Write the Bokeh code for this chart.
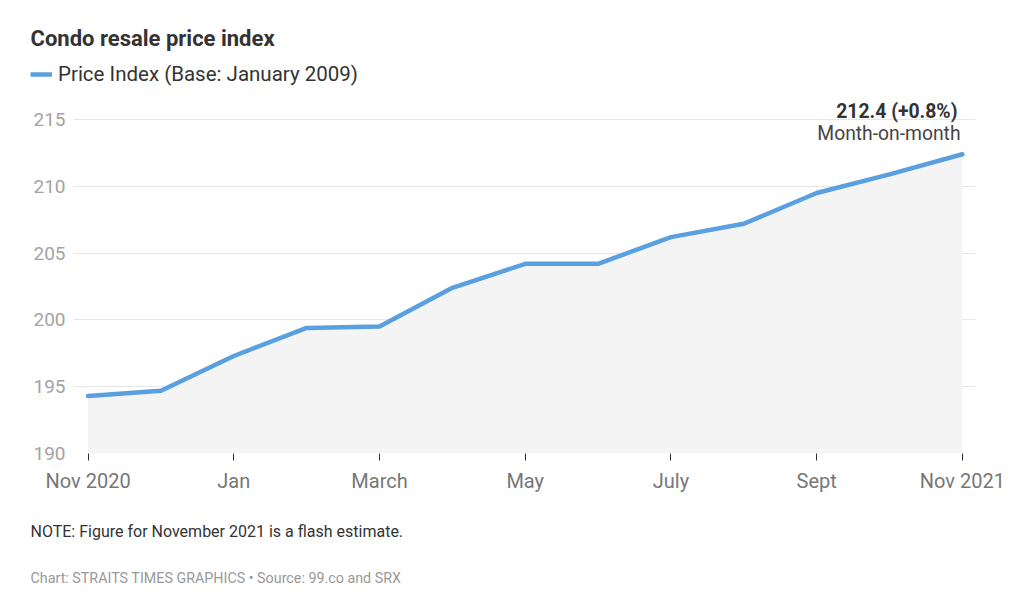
from bokeh.plotting import figure
from bokeh.models import Label, Legend, LegendItem, FixedTicker, Range1d
from bokeh.layouts import column
from bokeh.embed import file_html
from bokeh.resources import INLINE

months = ["Nov 2020", "Dec", "Jan", "Feb", "March", "Apr", "May", "Jun",
          "July", "Aug", "Sept", "Oct", "Nov 2021"]
index_values = [194.3, 194.7, 197.3, 199.4, 199.5, 202.4, 204.2, 204.2,
                206.2, 207.2, 209.5, 210.9, 212.4]
y_ticks = [190, 195, 200, 205, 210, 215]
x_tick_positions = [0, 2, 4, 6, 8, 10, 12]

FONT = "Roboto"
LINE_COLOR = "#5a9fe0"
x = list(range(len(months)))


def text_strip(height):
    f = figure(width=1014, height=height, output_backend="svg", toolbar_location=None,
               x_axis_type=None, y_axis_type=None, min_border=0,
               x_range=Range1d(0, 1), y_range=Range1d(0, 1))
    f.frame_align = False
    f.outline_line_color = None
    return f


# ---------- header: title + legend ----------
header = text_strip(95)
header.add_layout(Label(x=30, y=57, x_units="screen", y_units="screen",
                        text="Condo resale price index", text_font=FONT,
                        text_font_style="bold", text_font_size="22px",
                        text_color="#333333", text_baseline="middle"))
# legend swatch renderer (single off-range point: draws nothing itself)
legend_line = header.line(x=[-1], y=[-1], line_color=LINE_COLOR, line_width=4.5)
legend = Legend(items=[LegendItem(label="Price Index (Base: January 2009)",
                                  renderers=[legend_line])],
                location=(30, 9), orientation="horizontal",
                glyph_width=22, glyph_height=20, label_standoff=6,
                padding=0, margin=0, border_line_color=None,
                background_fill_alpha=0, label_text_font=FONT,
                label_text_font_size="20.5px", label_text_color="#333333",
                label_height=20)
header.add_layout(legend, "center")

# ---------- main chart ----------
p = figure(width=1014, height=403, output_backend="svg", toolbar_location=None,
           x_range=Range1d(-0.2, 12.18), y_range=Range1d(190, 216.8),
           min_border_left=73, min_border_right=39, min_border_top=0,
           min_border_bottom=45)
p.frame_align = False
p.outline_line_color = None
p.background_fill_color = "white"
p.border_fill_color = "white"

p.varea(x=x, y1=[190] * len(x), y2=index_values, fill_color="#f4f4f4")
p.line(x=x, y=index_values, line_color=LINE_COLOR, line_width=4.5,
       line_join="round", line_cap="round")

p.xaxis.ticker = FixedTicker(ticks=x_tick_positions)
p.xaxis.major_label_overrides = {i: months[i] for i in x_tick_positions}
p.xaxis.axis_line_color = None
p.xaxis.major_tick_line_color = "#333333"
p.xaxis.major_tick_out = 7
p.xaxis.major_tick_in = 0
p.xaxis.minor_tick_line_color = None
p.xaxis.major_label_text_font = FONT
p.xaxis.major_label_text_font_size = "20px"
p.xaxis.major_label_text_color = "#777777"
p.xaxis.major_label_standoff = 8

p.yaxis.ticker = FixedTicker(ticks=y_ticks)
p.yaxis.axis_line_color = None
p.yaxis.major_tick_line_color = None
p.yaxis.major_tick_out = 0
p.yaxis.major_tick_in = 0
p.yaxis.minor_tick_line_color = None
p.yaxis.major_label_text_font = FONT
p.yaxis.major_label_text_font_size = "19px"
p.yaxis.major_label_text_color = "#a3a3a3"
p.yaxis.major_label_standoff = 8

p.xgrid.grid_line_color = None
p.ygrid.ticker = FixedTicker(ticks=y_ticks)
p.ygrid.grid_line_color = "#e6e6e6"
p.ygrid.grid_line_width = 1

p.add_layout(Label(x=884, y=342, x_units="screen", y_units="screen",
                   text="212.4 (+0.8%)", text_font=FONT, text_font_style="bold",
                   text_font_size="19.4px", text_color="#333333",
                   text_align="right", text_baseline="middle"))
p.add_layout(Label(x=887, y=320, x_units="screen", y_units="screen",
                   text="Month-on-month", text_font=FONT,
                   text_font_size="19.3px", text_color="#444444",
                   text_align="right", text_baseline="middle"))

# ---------- footer: note + credits ----------
footer = text_strip(100)
footer.add_layout(Label(x=30, y=67, x_units="screen", y_units="screen",
                        text="NOTE: Figure for November 2021 is a flash estimate.",
                        text_font=FONT, text_font_size="16px", text_color="#333333",
                        text_baseline="middle"))
footer.add_layout(Label(x=30, y=21, x_units="screen", y_units="screen",
                        text="Chart: STRAITS TIMES GRAPHICS \u2022 Source: 99.co and SRX",
                        text_font=FONT, text_font_size="14.3px", text_color="#999999",
                        text_baseline="middle"))

layout = column(header, p, footer, spacing=0)
open("out.html", "w").write(file_html(layout, INLINE))
